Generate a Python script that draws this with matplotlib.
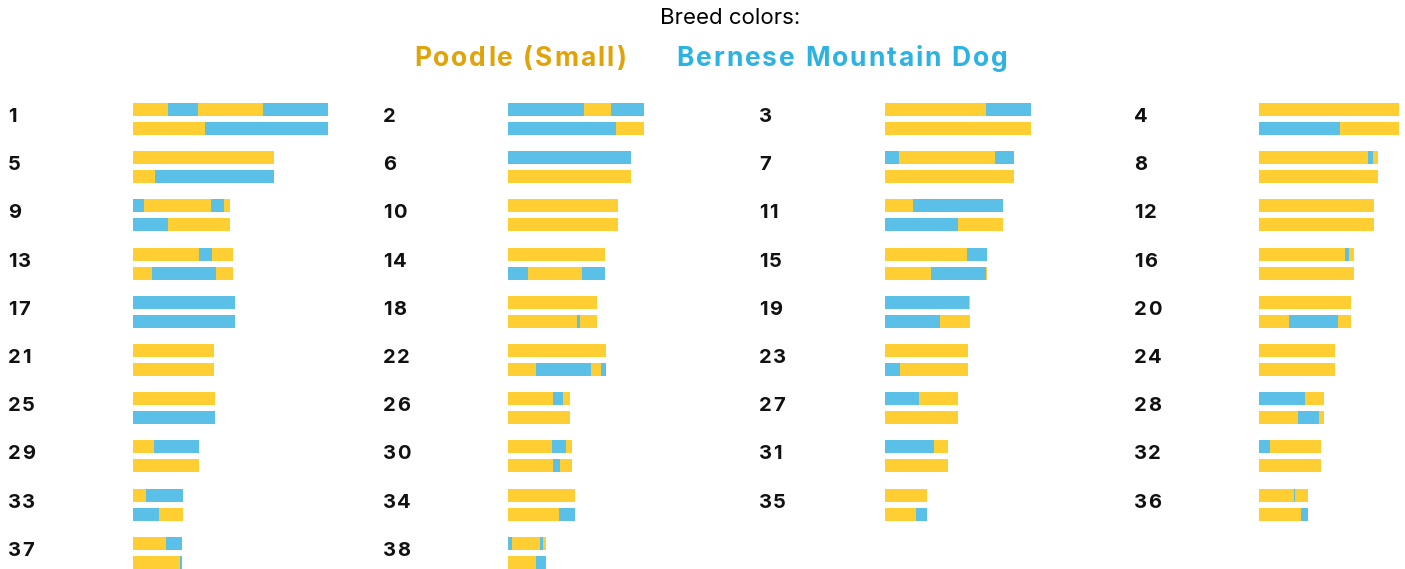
import matplotlib.pyplot as plt

plt.rcParams['font.family'] = ['Inter', 'DejaVu Sans']

# chromosome lengths (Mb) for CanFam chromosomes 1-38
chrom_lengths = [122.7, 85.4, 91.9, 88.3, 88.9, 77.6, 81.0, 74.7, 61.1, 69.3,
                 74.4, 72.5, 63.2, 61.0, 64.2, 59.6, 64.3, 55.8, 53.7, 58.1,
                 50.9, 61.4, 52.3, 47.7, 51.6, 39.0, 45.9, 41.2, 41.8, 40.2,
                 39.8, 38.8, 31.4, 42.1, 26.5, 30.8, 30.9, 23.9]

# ancestry segments per haplotype: (segment end in Mb, breed) ; P = Poodle, B = Bernese
hap1 = [
    [(22.0, 'P'), (40.9, 'B'), (81.8, 'P'), (122.7, 'B')],
    [(47.8, 'B'), (64.8, 'P'), (85.4, 'B')],
    [(63.5, 'P'), (91.9, 'B')],
    [(88.3, 'P')],
    [(88.9, 'P')],
    [(77.6, 'B')],
    [(8.8, 'B'), (69.2, 'P'), (81.0, 'B')],
    [(68.6, 'P'), (71.7, 'B'), (74.7, 'P')],
    [(6.9, 'B'), (49.1, 'P'), (57.2, 'B'), (61.1, 'P')],
    [(69.3, 'P')],
    [(17.6, 'P'), (74.4, 'B')],
    [(72.5, 'P')],
    [(41.5, 'P'), (49.7, 'B'), (63.2, 'P')],
    [(61.0, 'P')],
    [(51.6, 'P'), (64.2, 'B')],
    [(54.1, 'P'), (56.6, 'B'), (59.6, 'P')],
    [(64.3, 'B')],
    [(55.8, 'P')],
    [(52.8, 'B'), (53.7, 'P')],
    [(58.1, 'P')],
    [(50.9, 'P')],
    [(61.4, 'P')],
    [(52.3, 'P')],
    [(47.7, 'P')],
    [(51.6, 'P')],
    [(28.3, 'P'), (34.6, 'B'), (39.0, 'P')],
    [(21.4, 'B'), (45.9, 'P')],
    [(28.9, 'B'), (41.2, 'P')],
    [(13.2, 'P'), (41.8, 'B')],
    [(27.7, 'P'), (36.5, 'B'), (40.2, 'P')],
    [(30.8, 'B'), (39.8, 'P')],
    [(6.9, 'B'), (38.8, 'P')],
    [(8.2, 'P'), (31.4, 'B')],
    [(42.1, 'P')],
    [(26.5, 'P')],
    [(22.0, 'P'), (22.6, 'B'), (30.8, 'P')],
    [(20.8, 'P'), (30.9, 'B')],
    [(2.5, 'B'), (20.1, 'P'), (22.0, 'B'), (23.9, 'P')],
]

hap2 = [
    [(45.3, 'P'), (122.7, 'B')],
    [(67.9, 'B'), (85.4, 'P')],
    [(91.9, 'P')],
    [(50.9, 'B'), (88.3, 'P')],
    [(13.8, 'P'), (88.9, 'B')],
    [(77.6, 'P')],
    [(81.0, 'P')],
    [(74.7, 'P')],
    [(22.0, 'B'), (61.1, 'P')],
    [(69.3, 'P')],
    [(45.9, 'B'), (74.4, 'P')],
    [(72.5, 'P')],
    [(11.9, 'P'), (52.2, 'B'), (63.2, 'P')],
    [(12.6, 'B'), (46.5, 'P'), (61.0, 'B')],
    [(28.9, 'P'), (63.5, 'B'), (64.2, 'P')],
    [(59.6, 'P')],
    [(64.3, 'B')],
    [(43.4, 'P'), (45.3, 'B'), (55.8, 'P')],
    [(34.6, 'B'), (53.7, 'P')],
    [(18.9, 'P'), (49.7, 'B'), (58.1, 'P')],
    [(50.9, 'P')],
    [(17.6, 'P'), (52.2, 'B'), (58.5, 'P'), (61.4, 'B')],
    [(9.4, 'B'), (52.3, 'P')],
    [(47.7, 'P')],
    [(51.6, 'B')],
    [(39.0, 'P')],
    [(45.9, 'P')],
    [(24.5, 'P'), (37.7, 'B'), (41.2, 'P')],
    [(41.8, 'P')],
    [(28.3, 'P'), (32.7, 'B'), (40.2, 'P')],
    [(39.8, 'P')],
    [(38.8, 'P')],
    [(16.4, 'B'), (31.4, 'P')],
    [(32.1, 'P'), (42.1, 'B')],
    [(19.5, 'P'), (26.5, 'B')],
    [(26.4, 'P'), (30.8, 'B')],
    [(29.6, 'P'), (30.9, 'B')],
    [(17.6, 'P'), (23.9, 'B')],
]

legend_names = ['Poodle (Small)', 'Bernese Mountain Dog']
bar_colors = {'P': '#FFCE33', 'B': '#5BC0E8'}
W, H = 1405, 569

fig = plt.figure(figsize=(W / 100, H / 100), dpi=100)
renderer = fig.canvas.get_renderer()


def text_width(s, **kw):
    # width in px of s, measured with a trailing '|' so spaces count
    t = fig.text(0, 0, s + '|', **kw)
    w = t.get_window_extent(renderer).width
    t.remove()
    t = fig.text(0, 0, '|', **kw)
    w -= t.get_window_extent(renderer).width
    t.remove()
    return w


def spaced_text(x, y, s, spacing, center=False, **kw):
    # draw s one char at a time with extra letter spacing (x, y in px from top-left)
    total = text_width(s, **kw) + spacing * (len(s) - 1)
    x0 = x - total / 2 if center else x
    for k, ch in enumerate(s):
        if ch == ' ':
            continue
        xk = x0 + text_width(s[:k], **kw) + k * spacing if k else x0
        fig.text(xk / W, 1 - y / H, ch, ha='left', va='center', **kw)


col_x = [133, 508, 885, 1259]
label_x = [8, 383, 759, 1134]
bar_w = 195  # px for the longest chromosome

for i, length in enumerate(chrom_lengths):
    col, row = i % 4, i // 4
    top = 103 + 48.2 * row
    ax = fig.add_axes([col_x[col] / W, 1 - (top + 32) / H, bar_w / W, 32 / H])
    for y, hap in enumerate([hap1[i], hap2[i]]):
        start = 0
        for end, breed in hap:
            ax.barh(y, end - start, left=start, height=0.684,
                    color=bar_colors[breed], edgecolor='none')
            start = end
    ax.set_xlim(0, max(chrom_lengths))
    ax.set_ylim(1.342, -0.342)
    ax.axis('off')
    spaced_text(label_x[col], top + 14, str(i + 1), 1.2,
                fontsize=14.5, fontweight='bold', color='#111111')

fig.text(730 / W, 1 - 18 / H, 'Breed colors:', fontsize=16, ha='center', va='center')
spaced_text(520, 59, legend_names[0], 2.0, center=True,
            fontsize=19, fontweight='bold', color='#E0A30A')
spaced_text(842, 59, legend_names[1], 2.0, center=True,
            fontsize=19, fontweight='bold', color='#2DB3E3')

fig.savefig('out.png', dpi=100, facecolor='white')
